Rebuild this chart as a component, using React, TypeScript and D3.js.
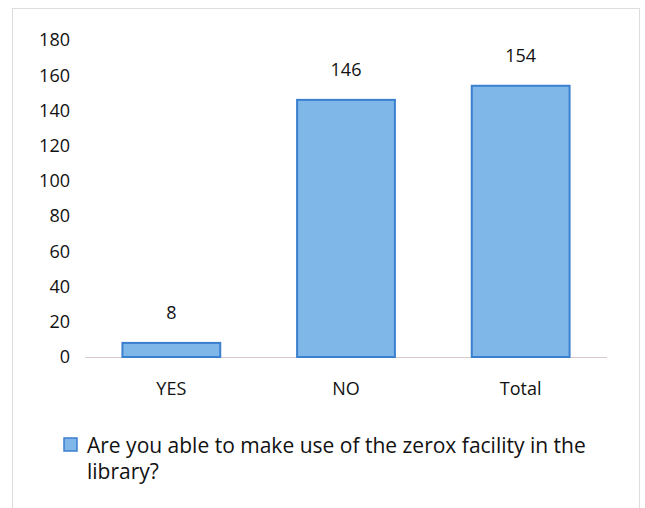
import React, { useEffect, useRef } from 'react';
import * as d3 from 'd3';

const categories = ['YES', 'NO', 'Total'];
const values = [8, 146, 154];
const yTicks = [0, 20, 40, 60, 80, 100, 120, 140, 160, 180];
const legendLines = ['Are you able to make use of the zerox facility in the', 'library?'];

const App = () => {
  const svgRef = useRef<SVGSVGElement>(null);

  useEffect(() => {
    const width = 645;
    const height = 508;
    const font = "'Open Sans', 'Noto Sans', sans-serif";

    const svg = d3.select(svgRef.current);
    svg.selectAll('*').remove();
    svg.attr('width', width).attr('height', height);

    svg.append('rect')
      .attr('width', width)
      .attr('height', height)
      .attr('fill', '#fff');

    // outer frame
    svg.append('rect')
      .attr('x', 12.5)
      .attr('y', 8.5)
      .attr('width', 627)
      .attr('height', 510)
      .attr('fill', 'none')
      .attr('stroke', '#ddd')
      .attr('stroke-width', 1);

    const x = d3.scaleBand()
      .domain(categories)
      .range([84, 608])
      .paddingInner(0.44)
      .paddingOuter(0.22);

    const y = d3.scaleLinear()
      .domain([0, 180])
      .range([357, 40]);

    // y tick labels
    svg.append('g')
      .selectAll('text')
      .data(yTicks)
      .enter()
      .append('text')
      .attr('x', 70)
      .attr('y', d => y(d))
      .attr('dy', '0.35em')
      .attr('text-anchor', 'end')
      .style('font-family', font)
      .style('font-size', '18px')
      .attr('fill', '#111')
      .text(d => d);

    // baseline
    svg.append('line')
      .attr('x1', 85)
      .attr('x2', 607)
      .attr('y1', y(0) + 0.5)
      .attr('y2', y(0) + 0.5)
      .attr('stroke', '#d9c9c9')
      .attr('stroke-width', 1);

    // bars
    svg.append('g')
      .selectAll('rect')
      .data(values)
      .enter()
      .append('rect')
      .attr('x', (d, i) => x(categories[i]))
      .attr('y', d => y(d))
      .attr('width', x.bandwidth())
      .attr('height', d => y(0) - y(d))
      .attr('fill', '#80b7e9')
      .attr('stroke', '#3b7fcf')
      .attr('stroke-width', 2);

    // value labels
    svg.append('g')
      .selectAll('text')
      .data(values)
      .enter()
      .append('text')
      .attr('x', (d, i) => x(categories[i]) + x.bandwidth() / 2)
      .attr('y', d => y(d) - 24)
      .attr('text-anchor', 'middle')
      .style('font-family', font)
      .style('font-size', '18px')
      .attr('fill', '#111')
      .text(d => d);

    // category labels
    svg.append('g')
      .selectAll('text')
      .data(categories)
      .enter()
      .append('text')
      .attr('x', d => x(d) + x.bandwidth() / 2)
      .attr('y', 389)
      .attr('dy', '0.35em')
      .attr('text-anchor', 'middle')
      .style('font-family', font)
      .style('font-size', '18px')
      .attr('fill', '#111')
      .text(d => d);

    // legend
    svg.append('rect')
      .attr('x', 64)
      .attr('y', 438)
      .attr('width', 13)
      .attr('height', 13)
      .attr('fill', '#80b7e9')
      .attr('stroke', '#3b7fcf')
      .attr('stroke-width', 1.5);

    svg.append('g')
      .selectAll('text')
      .data(legendLines)
      .enter()
      .append('text')
      .attr('x', 87)
      .attr('y', (d, i) => 446 + i * 26)
      .attr('dy', '0.35em')
      .style('font-family', font)
      .style('font-size', '21px')
      .attr('fill', '#111')
      .text(d => d);
  }, []);

  return <svg ref={svgRef} style={{ position: 'absolute', left: 0, top: 0 }}></svg>;
};

export default App;
